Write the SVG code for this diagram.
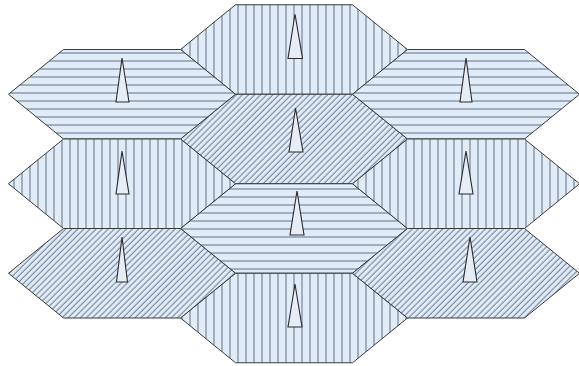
<svg xmlns="http://www.w3.org/2000/svg" width="579" height="366" viewBox="0 0 579 366">
<defs>
<pattern id="pv" patternUnits="userSpaceOnUse" width="8" height="8" x="2" y="0"><rect width="8" height="8" fill="#e1ecf9"/><line x1="4" y1="0" x2="4" y2="8" stroke="#7c8ca0" stroke-width="1.3"/></pattern>
<pattern id="ph" patternUnits="userSpaceOnUse" width="8" height="8" x="0" y="1"><rect width="8" height="8" fill="#e1ecf9"/><line x1="0" y1="4" x2="8" y2="4" stroke="#7c8ca0" stroke-width="1.3"/></pattern>
<pattern id="pd" patternUnits="userSpaceOnUse" width="4.3" height="8" patternTransform="rotate(45)"><rect width="4.3" height="8" fill="#e1ecf9"/><line x1="2" y1="0" x2="2" y2="8" stroke="#7c8ca0" stroke-width="1.2"/></pattern>
</defs>
<style>
.hx{stroke:#3a3a3a;stroke-width:1;stroke-linejoin:round}
.v{fill:url(#pv)}
.h{fill:url(#ph)}
.d{fill:url(#pd)}
.ant{fill:#e6edf7;stroke:#2a2a2a;stroke-width:1.1;stroke-linejoin:miter}
</style>
<g id="cell-c1"><polygon class="hx v" points="235.5,4.75 352.5,4.75 407.5,49.5 352.5,94.25 235.5,94.25 180.5,49.5"/><polygon class="ant" points="295,14 302.5,58.5 288,58.5"/></g>
<g id="cell-c2"><polygon class="hx d" points="235.5,94.25 352.5,94.25 407.5,139 352.5,183.75 235.5,183.75 180.5,139"/><polygon class="ant" points="295.5,108 303,152 289,152"/></g>
<g id="cell-c3"><polygon class="hx h" points="235.5,183.75 352.5,183.75 407.5,228.5 352.5,273.25 235.5,273.25 180.5,228.5"/><polygon class="ant" points="297,191 304,235 290,235"/></g>
<g id="cell-c4"><polygon class="hx v" points="235.5,273.25 352.5,273.25 407.5,318 352.5,362.75 235.5,362.75 180.5,318"/><polygon class="ant" points="295,284 302,327 288,327"/></g>
<g id="cell-l1"><polygon class="hx h" points="63.5,49.5 180.5,49.5 235.5,94.25 180.5,139 63.5,139 8.5,94.25"/><polygon class="ant" points="122,58 129,102 116,102"/></g>
<g id="cell-l2"><polygon class="hx v" points="63.5,139 180.5,139 235.5,183.75 180.5,228.5 63.5,228.5 8.5,183.75"/><polygon class="ant" points="122,151 129,194 116,194"/></g>
<g id="cell-l3"><polygon class="hx d" points="63.5,228.5 180.5,228.5 235.5,273.25 180.5,318 63.5,318 8.5,273.25"/><polygon class="ant" points="122,237 127.5,282 116.5,282"/></g>
<g id="cell-r1"><polygon class="hx h" points="407.5,49.5 524.5,49.5 579.5,94.25 524.5,139 407.5,139 352.5,94.25"/><polygon class="ant" points="466,58 472,102 460,102"/></g>
<g id="cell-r2"><polygon class="hx v" points="407.5,139 524.5,139 579.5,183.75 524.5,228.5 407.5,228.5 352.5,183.75"/><polygon class="ant" points="466,151 473,194 459,194"/></g>
<g id="cell-r3"><polygon class="hx d" points="407.5,228.5 524.5,228.5 579.5,273.25 524.5,318 407.5,318 352.5,273.25"/><polygon class="ant" points="470,237 477,282 463,282"/></g>
<g id="connectors"></g>
</svg>
